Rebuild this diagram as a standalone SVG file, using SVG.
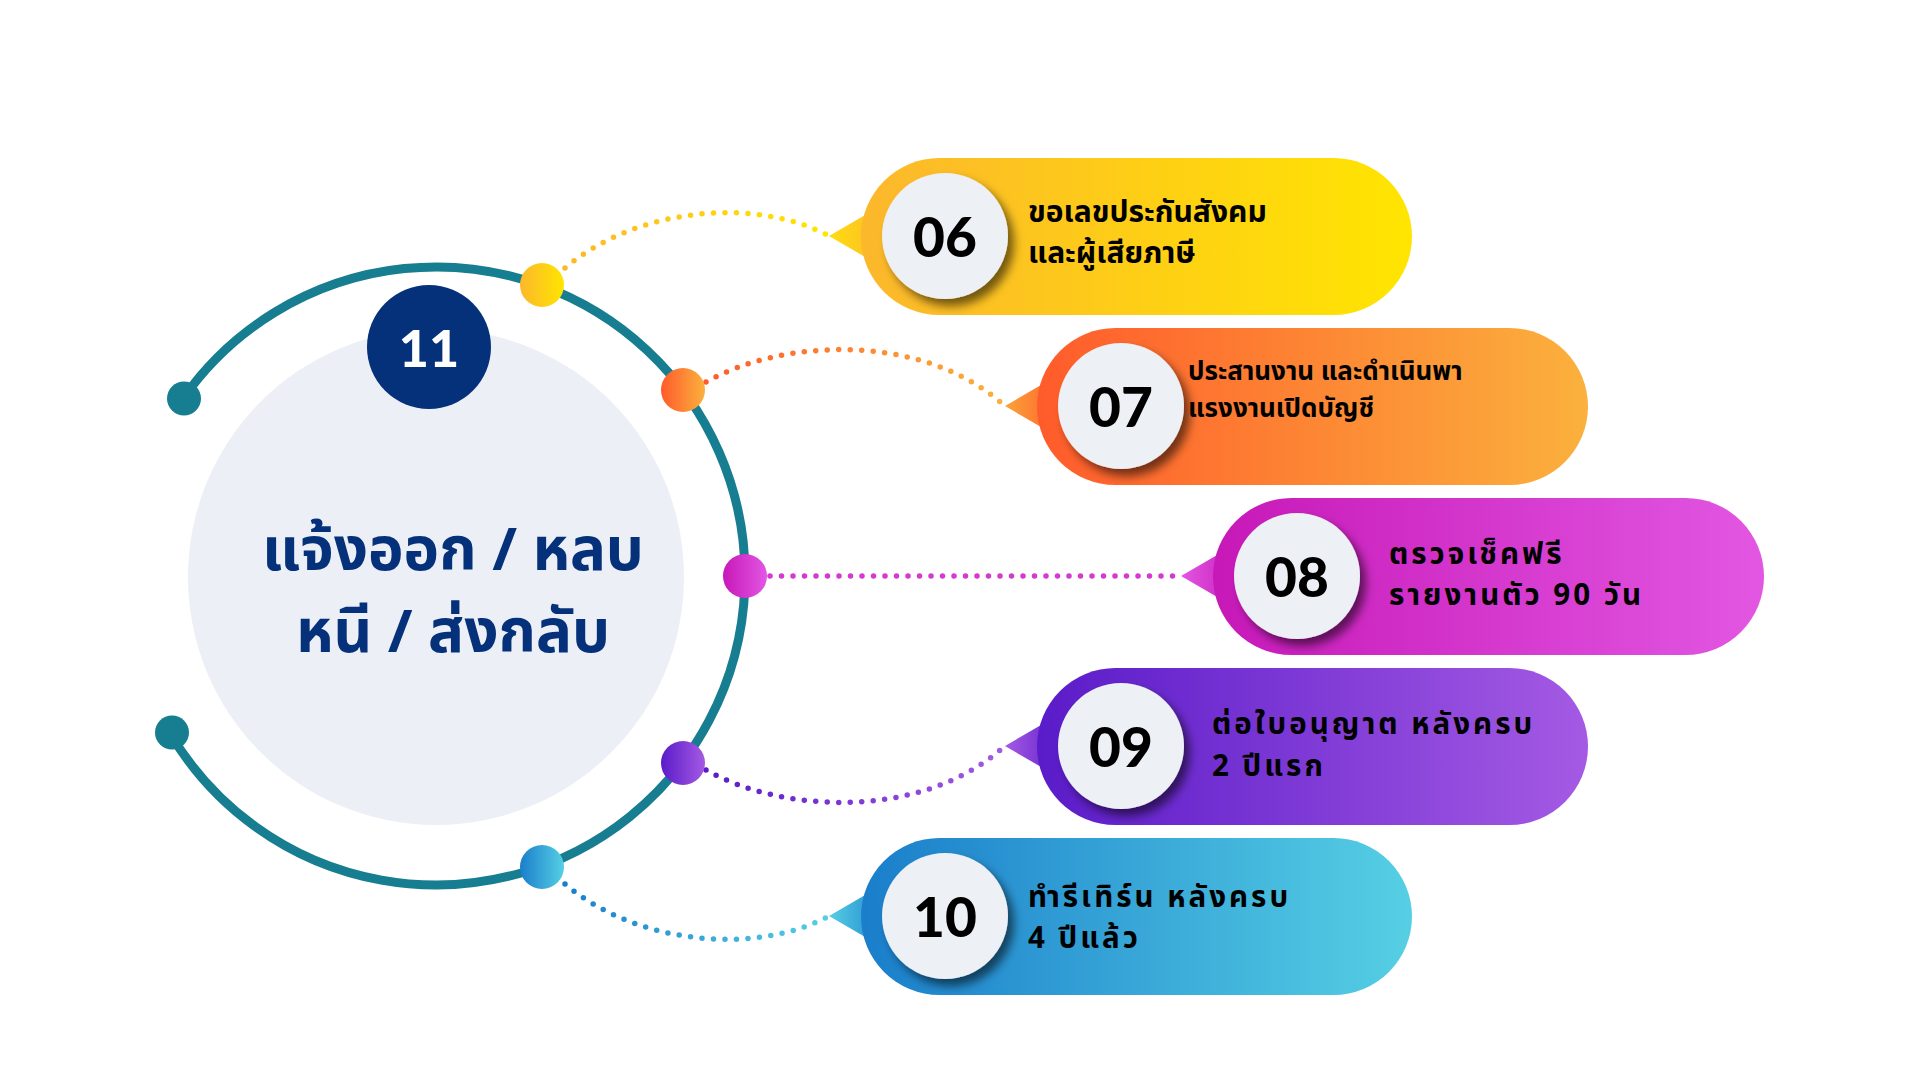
<svg xmlns="http://www.w3.org/2000/svg" width="1920" height="1080" viewBox="0 0 1920 1080">
<style>
.th{font-family:"Noto Sans Thai","Noto Sans","DejaVu Sans",sans-serif;font-weight:700;fill:#000}
.num{font-family:"Lato","Open Sans",sans-serif;font-weight:900;font-size:55px;fill:#000;text-anchor:middle;dominant-baseline:central}
.ncirc{fill:#EDF0F5;filter:url(#sh)}
.conn{fill:none;stroke-width:5.5;stroke-linecap:round;stroke-dasharray:0 11.5}
</style>
<defs>
<filter id="sh" x="-30%" y="-30%" width="170%" height="170%"><feDropShadow dx="6" dy="7" stdDeviation="5" flood-color="#000" flood-opacity="0.55"/></filter>
<linearGradient id="g6"><stop offset="0" stop-color="#FCB72C"/><stop offset="1" stop-color="#FFE500"/></linearGradient>
<linearGradient id="g7"><stop offset="0" stop-color="#FF5B2B"/><stop offset="1" stop-color="#FBB13D"/></linearGradient>
<linearGradient id="g8"><stop offset="0" stop-color="#C718B8"/><stop offset="1" stop-color="#E257E2"/></linearGradient>
<linearGradient id="g9"><stop offset="0" stop-color="#5A1BC9"/><stop offset="1" stop-color="#A45AE3"/></linearGradient>
<linearGradient id="g10"><stop offset="0" stop-color="#1A7ECB"/><stop offset="1" stop-color="#56CFE4"/></linearGradient>
<linearGradient id="t6"><stop offset="0" stop-color="#FFDC10"/><stop offset="1" stop-color="#FCB72C"/></linearGradient>
<linearGradient id="t7"><stop offset="0" stop-color="#FBA23A"/><stop offset="1" stop-color="#FF5B2B"/></linearGradient>
<linearGradient id="t8"><stop offset="0" stop-color="#E257E2"/><stop offset="1" stop-color="#C718B8"/></linearGradient>
<linearGradient id="t9"><stop offset="0" stop-color="#A45AE3"/><stop offset="1" stop-color="#5A1BC9"/></linearGradient>
<linearGradient id="t10"><stop offset="0" stop-color="#56CFE4"/><stop offset="1" stop-color="#1A7ECB"/></linearGradient>
</defs>
<rect width="1920" height="1080" fill="#fff"/>

<g id="center">
<circle cx="436" cy="577" r="248" fill="#ECEFF5"/>
<path d="M 183.2 398.3 A 309 309 0 1 1 170.6 734.2" fill="none" stroke="#177D90" stroke-width="9"/>
<circle cx="184" cy="398.5" r="17" fill="#177D90"/>
<circle cx="172" cy="732.5" r="17" fill="#177D90"/>
<text x="453" y="551" text-anchor="middle" dominant-baseline="central" font-family="Noto Sans Thai, Noto Sans, DejaVu Sans, sans-serif" font-weight="700" font-size="60" fill="#05317A">แจ้งออก / หลบ</text>
<text x="453" y="633" text-anchor="middle" dominant-baseline="central" font-family="Noto Sans Thai, Noto Sans, DejaVu Sans, sans-serif" font-weight="700" font-size="60" fill="#05317A">หนี / ส่งกลับ</text>
</g>
<g id="badge11">
<circle cx="429" cy="347" r="62" fill="#04317A"/>
<text x="429" y="347" class="num" style="fill:#fff;font-size:52px">11</text>
</g>

<g id="connectors">
<path class="conn" stroke="url(#g6)" d="M 565 268 C 640 205, 760 198, 829 236"/>
<path class="conn" stroke="url(#g7)" d="M 706 382 C 780 340, 920 330, 1005 406"/>
<path class="conn" stroke="#D43ACF" d="M 770 576 L 1181 576"/>
<path class="conn" stroke="url(#g9)" d="M 706 770 C 780 812, 920 822, 1005 746"/>
<path class="conn" stroke="url(#g10)" d="M 565 884 C 640 947, 760 954, 829 916"/>
</g>

<g id="dots">
<circle cx="542" cy="285" r="22" fill="url(#g6)"/>
<circle cx="683" cy="390" r="22" fill="url(#g7)"/>
<circle cx="745" cy="576" r="22" fill="url(#g8)"/>
<circle cx="683" cy="763" r="22" fill="url(#g9)"/>
<circle cx="542" cy="867" r="22" fill="url(#g10)"/>
</g>

<g id="n06">
<polygon points="829,236 891,200 891,272" fill="url(#t6)"/>
<rect x="861" y="158" width="551" height="157" rx="78.5" fill="url(#g6)"/>
<circle cx="945" cy="236" r="63" class="ncirc"/>
<text x="945" y="236" class="num">06</text>
<text class="th" font-size="30" x="1028" y="222">ขอเลขประกันสังคม</text>
<text class="th" font-size="30" x="1028" y="263">และผู้เสียภาษี</text>
</g>

<g id="n07">
<polygon points="1005,406 1067,370 1067,442" fill="url(#t7)"/>
<rect x="1037" y="328" width="551" height="157" rx="78.5" fill="url(#g7)"/>
<circle cx="1121" cy="406" r="63" class="ncirc"/>
<text x="1121" y="406" class="num">07</text>
<text class="th" font-size="26" x="1188" y="380">ประสานงาน และดำเนินพา</text>
<text class="th" font-size="26" x="1188" y="417">แรงงานเปิดบัญชี</text>
</g>

<g id="n08">
<polygon points="1181,576 1243,540 1243,612" fill="url(#t8)"/>
<rect x="1213" y="498" width="551" height="157" rx="78.5" fill="url(#g8)"/>
<circle cx="1297" cy="576" r="63" class="ncirc"/>
<text x="1297" y="576" class="num">08</text>
<text class="th" font-size="29.5" letter-spacing="3" x="1389" y="564">ตรวจเช็คฟรี</text>
<text class="th" font-size="29.5" letter-spacing="3" x="1389" y="605">รายงานตัว 90 วัน</text>
</g>

<g id="n09">
<polygon points="1005,746 1067,710 1067,782" fill="url(#t9)"/>
<rect x="1037" y="668" width="551" height="157" rx="78.5" fill="url(#g9)"/>
<circle cx="1121" cy="746" r="63" class="ncirc"/>
<text x="1121" y="746" class="num">09</text>
<text class="th" font-size="29.5" letter-spacing="3" x="1212" y="734">ต่อใบอนุญาต หลังครบ</text>
<text class="th" font-size="29.5" letter-spacing="3" x="1212" y="776">2 ปีแรก</text>
</g>

<g id="n10">
<polygon points="829,916 891,880 891,952" fill="url(#t10)"/>
<rect x="861" y="838" width="551" height="157" rx="78.5" fill="url(#g10)"/>
<circle cx="945" cy="916" r="63" class="ncirc"/>
<text x="945" y="916" class="num">10</text>
<text class="th" font-size="29.5" letter-spacing="3" x="1028" y="907">ทำรีเทิร์น หลังครบ</text>
<text class="th" font-size="29.5" letter-spacing="3" x="1028" y="948">4 ปีแล้ว</text>
</g>
</svg>
